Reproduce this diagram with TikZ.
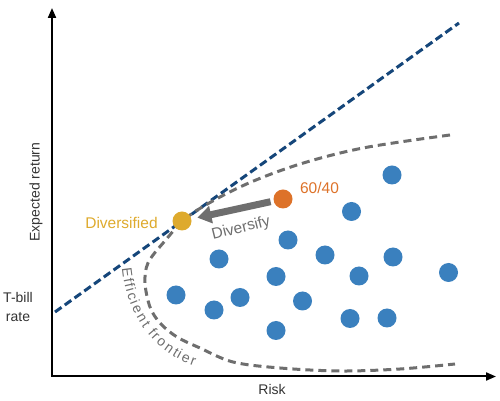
\documentclass[tikz,border=0pt]{standalone}
\usepackage{fontspec}
\setmainfont{Liberation Sans}
\usetikzlibrary{arrows.meta,decorations.text}
\definecolor{dotblue}{HTML}{3A80BE}
\definecolor{dotorange}{HTML}{DD7229}
\definecolor{dotgold}{HTML}{DEAA2D}
\definecolor{cml}{HTML}{15467A}
\definecolor{fgray}{HTML}{6E6E6E}
\definecolor{txt}{HTML}{333333}
\begin{document}
\begin{tikzpicture}[x=1pt,y=1pt,
  dot/.style={circle, inner sep=0pt, minimum size=19pt, draw=none},
  bluedot/.style={dot, fill=dotblue},
  axisline/.style={line width=2pt, black, {Triangle[length=10pt,width=8pt]}-{Triangle[length=10pt,width=8pt]}},
  cmlline/.style={line width=3pt, cml, dash pattern=on 8pt off 4pt},
  frontier/.style={line width=3pt, fgray, dash pattern=on 8pt off 5pt},
  lbl/.style={font=\fontsize{14}{19}\selectfont, text=txt, inner sep=0pt},
  biglbl/.style={font=\fontsize{15.5}{18}\selectfont, inner sep=0pt},
  bigarrow/.style={line width=7pt, fgray, -{Triangle[length=14pt,width=17pt]}, shorten <=3pt, shorten >=6pt}
]
\useasboundingbox (0,0) rectangle (500,401);

% axes
\coordinate (ytop) at (52,393);
\coordinate (xend) at (496,24.5);
\draw[axisline] (ytop) |- (xend);

% capital market line
\coordinate (cmlA) at (55,89);
\coordinate (cmlB) at (459,378);
\draw[cmlline] (cmlA) -- (cmlB);

% efficient frontier
\draw[frontier] plot[smooth, tension=0.55] coordinates {
 (450,266) (363,253) (297,236) (240,214) (190,186) (164,159) (148,138)
 (145,118) (150,94) (160,78) (177,64) (200,53) (233,39) (280,33)
 (340,30) (400,32) (455,37)};

\coordinate (efA) at (122,133);
\coordinate (efB) at (194,35);
\path[decorate, decoration={text effects along path,
  text={Efficient frontier},
  text effects/.cd, text along path, fit text to path,
  characters={text=fgray, font=\fontsize{14}{14}\selectfont}}]
  (efA) .. controls (126,90) and (150,50) .. (efB);

% dots
\node[bluedot] (b1) at (392,226) {};
\node[bluedot] (b2) at (351.5,189.5) {};
\node[bluedot] (b3) at (288,161) {};
\node[bluedot] (b4) at (325,146) {};
\node[bluedot] (b5) at (393,144) {};
\node[bluedot] (b6) at (219,142) {};
\node[bluedot] (b7) at (359,125) {};
\node[bluedot] (b8) at (448.5,128.5) {};
\node[bluedot] (b9) at (276,124.5) {};
\node[bluedot] (b10) at (176,106) {};
\node[bluedot] (b11) at (240,103.5) {};
\node[bluedot] (b12) at (302.5,100) {};
\node[bluedot] (b13) at (214,91) {};
\node[bluedot] (b14) at (276,70.5) {};
\node[bluedot] (b15) at (350,82.5) {};
\node[bluedot] (b16) at (387,83) {};

\node[dot, fill=dotgold] (gold) at (182,180) {};
\node[dot, fill=dotorange] (orange) at (283,202) {};

\draw[bigarrow] (orange) -- (gold);

% labels
\node[lbl, rotate=90] (ylab) at (36,209) {Expected return};
\node[lbl] (xlab) at (272,12) {Risk};
\node[lbl, align=center] (tbill) at (18,94) {T-bill\\rate};
\node[biglbl, text=dotgold] (divlab) at (121.5,178.5) {Diversified};
\node[biglbl, text=dotorange] (sixty) at (319.5,213) {60/40};
\node[biglbl, text=fgray, rotate=14, anchor=base] (divarrow) at (242,168.5) {Diversify};
\end{tikzpicture}
\end{document}
